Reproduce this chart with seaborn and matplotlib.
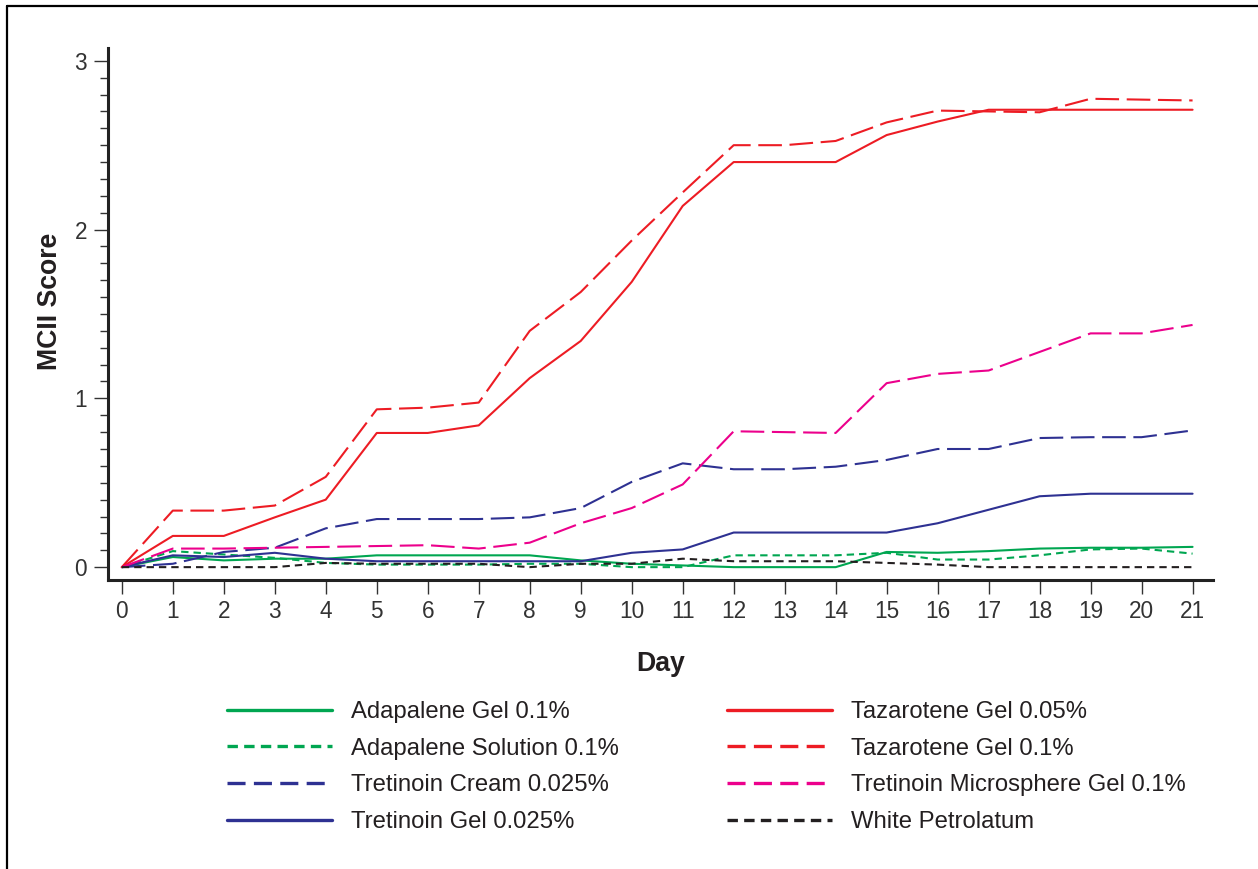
import pandas as pd
import matplotlib as mpl
import matplotlib.pyplot as plt
import seaborn as sns
from matplotlib.lines import Line2D
from matplotlib.ticker import MultipleLocator

# Values (mean MCII score per day)
days = list(range(22))
treatments = [
    "Adapalene Gel 0.1%",
    "Adapalene Solution 0.1%",
    "Tretinoin Cream 0.025%",
    "Tretinoin Gel 0.025%",
    "Tazarotene Gel 0.05%",
    "Tazarotene Gel 0.1%",
    "Tretinoin Microsphere Gel 0.1%",
    "White Petrolatum",
]
adapalene_gel = [0, 0.06, 0.04, 0.05, 0.05, 0.07, 0.07, 0.07, 0.07, 0.04, 0.02, 0.01,
                 0.0, 0.0, 0.0, 0.09, 0.085, 0.095, 0.11, 0.115, 0.115, 0.12]
adapalene_solution = [0, 0.095, 0.075, 0.055, 0.025, 0.015, 0.015, 0.015, 0.02, 0.02, 0.0, 0.0,
                      0.07, 0.07, 0.07, 0.085, 0.045, 0.045, 0.07, 0.105, 0.11, 0.08]
tretinoin_cream = [0, 0.02, 0.09, 0.115, 0.23, 0.285, 0.285, 0.285, 0.295, 0.35, 0.505, 0.615,
                   0.58, 0.58, 0.595, 0.635, 0.70, 0.70, 0.765, 0.77, 0.77, 0.81]
tretinoin_gel = [0, 0.07, 0.06, 0.085, 0.05, 0.035, 0.035, 0.035, 0.035, 0.035, 0.085, 0.105,
                 0.205, 0.205, 0.205, 0.205, 0.26, 0.34, 0.42, 0.435, 0.435, 0.435]
tazarotene_005 = [0, 0.185, 0.185, 0.295, 0.40, 0.795, 0.795, 0.84, 1.12, 1.34, 1.69, 2.14,
                  2.40, 2.40, 2.40, 2.56, 2.64, 2.71, 2.71, 2.71, 2.71, 2.71]
tazarotene_01 = [0, 0.335, 0.335, 0.365, 0.535, 0.935, 0.945, 0.975, 1.40, 1.63, 1.935, 2.22,
                 2.50, 2.50, 2.525, 2.635, 2.705, 2.70, 2.695, 2.775, 2.77, 2.765]
microsphere = [0, 0.11, 0.11, 0.115, 0.12, 0.125, 0.13, 0.11, 0.145, 0.26, 0.35, 0.49,
               0.805, 0.80, 0.795, 1.09, 1.145, 1.165, 1.275, 1.385, 1.385, 1.435]
petrolatum = [0, 0, 0, 0, 0.025, 0.02, 0.02, 0.02, 0.0, 0.02, 0.02, 0.05,
              0.035, 0.035, 0.035, 0.025, 0.015, 0, 0, 0, 0, 0]

series = [adapalene_gel, adapalene_solution, tretinoin_cream, tretinoin_gel,
          tazarotene_005, tazarotene_01, microsphere, petrolatum]

# long-form table for seaborn
df = pd.DataFrame({
    "Day": days * len(treatments),
    "MCII Score": [v for s in series for v in s],
    "Treatment": [t for t in treatments for _ in days],
})

GREEN, RED, BLUE, MAGENTA, BLACK = "#00a651", "#ed1c24", "#2e3192", "#ec008c", "#231f20"
palette = dict(zip(treatments, [GREEN, GREEN, BLUE, BLUE, RED, RED, MAGENTA, BLACK]))

LONG = (17, 5.5)
SHORT = (5.3, 3.6)
dashes = dict(zip(treatments, ["", SHORT, LONG, "", "", LONG, LONG, SHORT]))

sns.set_style("white")
plt.rcParams["font.family"] = ["Liberation Sans", "DejaVu Sans"]
plt.rcParams["lines.scale_dashes"] = False
plt.rcParams["text.color"] = BLACK
plt.rcParams["axes.labelcolor"] = BLACK
plt.rcParams["xtick.color"] = "#333333"
plt.rcParams["ytick.color"] = "#333333"

fig = plt.figure(figsize=(12.58, 8.69), dpi=100)
ax = fig.add_axes([0.0859, 0.3326, 0.9642 - 0.0859, 0.9448 - 0.3326])

sns.lineplot(
    data=df, x="Day", y="MCII Score",
    hue="Treatment", style="Treatment",
    hue_order=treatments, style_order=treatments,
    palette=palette, dashes=dashes,
    linewidth=1.5, errorbar=None, legend=False, ax=ax,
)

ax.set_xlim(-0.27, 21.4)
ax.set_ylim(-0.076, 3.076)
ax.set_xticks(days)
ax.set_yticks([0, 1, 2, 3])
ax.yaxis.set_minor_locator(MultipleLocator(0.1))

for side in ["top", "right"]:
    ax.spines[side].set_visible(False)
for side in ["left", "bottom"]:
    ax.spines[side].set_linewidth(2.2)
    ax.spines[side].set_color("#222222")

ax.tick_params(axis="both", which="major", direction="out", length=10, width=1.0,
               labelsize=16.3, pad=5)
ax.tick_params(axis="x", pad=4.5)
ax.tick_params(axis="y", which="minor", direction="out", length=6, width=1.0, left=True)
ax.tick_params(axis="x", bottom=True)
ax.tick_params(axis="y", left=True)

ax.set_xlabel("Day", fontsize=19.2, fontweight="bold", labelpad=20)
ax.set_ylabel("MCII Score", fontsize=19.2, fontweight="bold", labelpad=8)
ax.yaxis.label.set_y(0.524)

# legend in two columns under the plot
leg = ax.legend(
    ax.get_lines()[:len(treatments)], treatments,
    loc="upper left", bbox_to_anchor=(0.1805, 0.193), bbox_transform=fig.transFigure,
    ncol=2, frameon=False, fontsize=17.2,
    handlelength=4.4, handletextpad=0.8, columnspacing=4.5,
    labelspacing=0.61, borderpad=0, borderaxespad=0,
)
for line, key in zip(leg.get_lines(), treatments):
    line.set_linewidth(2.4)
    d = dashes[key]
    if d == LONG:
        line.set_dashes((13, 6))
    elif d == SHORT:
        line.set_dashes((7.5, 4.5))

# frame lines at the left and top edge of the image
fig.add_artist(Line2D([0.0056, 0.0056], [0, 0.993], transform=fig.transFigure,
                      color="black", linewidth=1.6))
fig.add_artist(Line2D([0.0056, 1.0], [0.993, 0.993], transform=fig.transFigure,
                      color="black", linewidth=1.6))

plt.savefig("out.png", dpi=100)
